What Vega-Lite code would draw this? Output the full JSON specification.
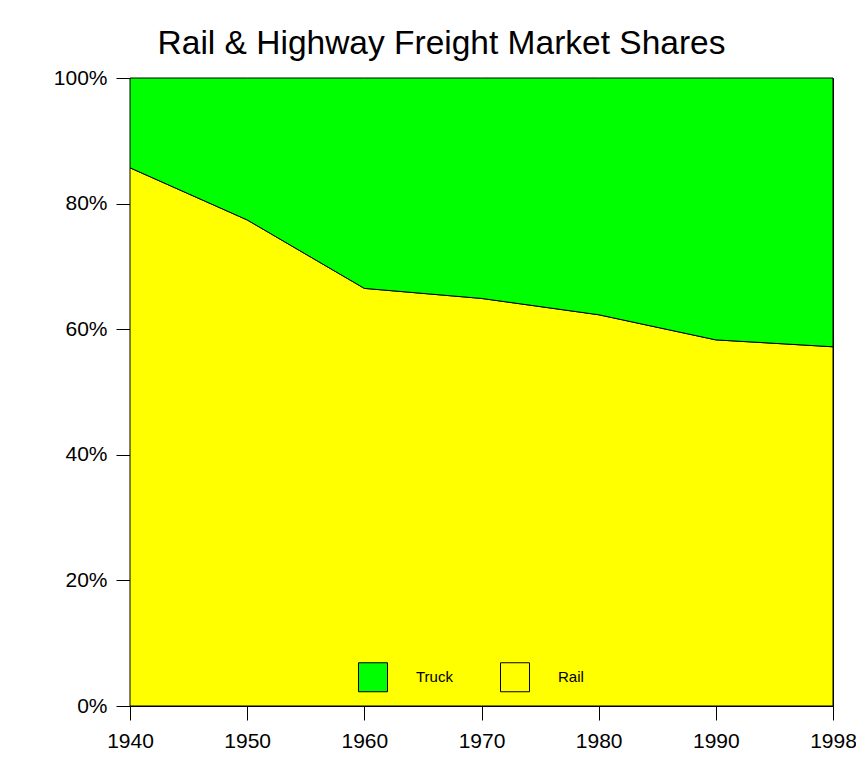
{
  "$schema": "https://vega.github.io/schema/vega-lite/v6.json",
  "width": 703,
  "height": 628,
  "autosize": "none",
  "padding": {"left": 130, "top": 78, "right": 23, "bottom": 54},
  "background": "white",
  "title": {
    "text": "Rail & Highway Freight Market Shares",
    "font": "Liberation Sans",
    "fontSize": 33.5,
    "fontWeight": "normal",
    "color": "black",
    "anchor": "middle",
    "dx": -40,
    "baseline": "alphabetic",
    "offset": -20
  },
  "data": {
    "values": [
      {"year": "1940", "mode": "Rail", "share": 85.7},
      {"year": "1950", "mode": "Rail", "share": 77.4},
      {"year": "1960", "mode": "Rail", "share": 66.5},
      {"year": "1970", "mode": "Rail", "share": 64.9},
      {"year": "1980", "mode": "Rail", "share": 62.3},
      {"year": "1990", "mode": "Rail", "share": 58.3},
      {"year": "1998", "mode": "Rail", "share": 57.2},
      {"year": "1940", "mode": "Truck", "share": 14.3},
      {"year": "1950", "mode": "Truck", "share": 22.6},
      {"year": "1960", "mode": "Truck", "share": 33.5},
      {"year": "1970", "mode": "Truck", "share": 35.1},
      {"year": "1980", "mode": "Truck", "share": 37.7},
      {"year": "1990", "mode": "Truck", "share": 41.7},
      {"year": "1998", "mode": "Truck", "share": 42.8}
    ]
  },
  "mark": {"type": "area", "stroke": "black", "strokeWidth": 1, "opacity": 1},
  "encoding": {
    "x": {
      "field": "year",
      "type": "ordinal",
      "scale": {"type": "point", "padding": 0},
      "axis": {
        "title": null,
        "labelAngle": 0,
        "labelFont": "Liberation Sans",
        "labelFontSize": 21,
        "labelColor": "black",
        "labelPadding": 10,
        "tickSize": 14,
        "tickColor": "black",
        "domainColor": "black",
        "grid": false
      }
    },
    "y": {
      "field": "share",
      "type": "quantitative",
      "stack": "zero",
      "scale": {"domain": [0, 100], "nice": false},
      "axis": {
        "title": null,
        "values": [0, 20, 40, 60, 80, 100],
        "labelExpr": "datum.value + '%'",
        "labelFont": "Liberation Sans",
        "labelFontSize": 21,
        "labelColor": "black",
        "labelPadding": 9,
        "tickSize": 14,
        "tickColor": "black",
        "domainColor": "black",
        "grid": false
      }
    },
    "color": {
      "field": "mode",
      "type": "nominal",
      "scale": {"domain": ["Truck", "Rail"], "range": ["#00FF00", "#FFFF00"]},
      "legend": {
        "title": null,
        "orient": "none",
        "direction": "horizontal",
        "legendX": 228,
        "legendY": 584,
        "padding": 0,
        "symbolType": "square",
        "symbolSize": 841,
        "symbolStrokeColor": "black",
        "symbolStrokeWidth": 1,
        "symbolOpacity": 1,
        "labelFont": "Liberation Sans",
        "labelFontSize": 15,
        "labelColor": "black",
        "labelOffset": 28,
        "columnPadding": 45
      }
    },
    "order": {"field": "mode", "sort": "ascending"}
  },
  "config": {
    "view": {"stroke": "black", "strokeWidth": 1}
  }
}
